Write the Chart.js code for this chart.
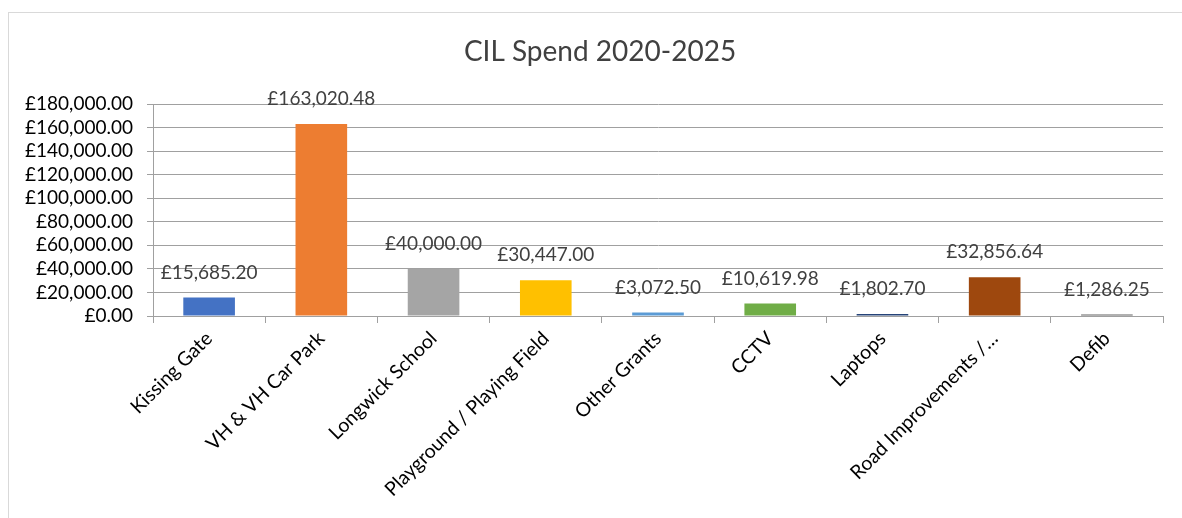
<!DOCTYPE html>
<html>
<head>
<meta charset="utf-8">
<script src="https://cdn.jsdelivr.net/npm/chart.js@4/dist/chart.umd.min.js"></script>
<style>
  html, body { margin: 0; padding: 0; background: #fff; overflow: hidden; }
  .frame {
    position: absolute; left: 8px; top: 12px; width: 1200px; height: 520px;
    border: 1px solid #d9d9d9; box-sizing: border-box;
  }
  .wrap { position: absolute; left: 0; top: 0; width: 1182px; height: 518px; }
</style>
</head>
<body>
<div class="frame"></div>
<div class="wrap"><canvas id="cilChart"></canvas></div>
<script>
// Données du graphique
const categories = ['Kissing Gate', 'VH & VH Car Park', 'Longwick School', 'Playground / Playing Field',
  'Other Grants', 'CCTV', 'Laptops', 'Road Improvements /…', 'Defib'];
const spend = [15685.20, 163020.48, 40000.00, 30447.00, 3072.50, 10619.98, 1802.70, 32856.64, 1286.25];
const barColours = ['#4472C4', '#ED7D31', '#A5A5A5', '#FFC000', '#5B9BD5', '#70AD47', '#264478', '#9E480E', '#636363'];
const yTicks = [0, 20000, 40000, 60000, 80000, 100000, 120000, 140000, 160000, 180000];
const chartTitle = 'CIL Spend 2020-2025';

const fmt = v => '£' + v.toLocaleString('en-GB', { minimumFractionDigits: 2, maximumFractionDigits: 2 });

// Titre + étiquettes de valeur au-dessus des barres
const valueLabels = {
  id: 'valueLabels',
  afterDatasetsDraw(chart) {
    const ctx = chart.ctx;
    const meta = chart.getDatasetMeta(0);
    ctx.save();
    ctx.textAlign = 'center';
    ctx.textBaseline = 'middle';
    ctx.fillStyle = '#404040';
    ctx.font = '28px Lato';
    ctx.fillText(chartTitle, 600, 52);
    ctx.font = '19px Lato';
    meta.data.forEach((bar, i) => {
      ctx.fillText(fmt(spend[i]), bar.x, bar.y - 25);
    });
    ctx.restore();
  }
};

new Chart(document.getElementById('cilChart'), {
  type: 'bar',
  data: {
    labels: categories,
    datasets: [{
      data: spend,
      backgroundColor: barColours,
      barPercentage: 0.46,
      categoryPercentage: 1
    }]
  },
  options: {
    responsive: true,
    maintainAspectRatio: false,
    animation: false,
    layout: { padding: { left: 10, right: 19, top: 104, bottom: 0 } },
    plugins: {
      legend: { display: false },
      tooltip: { enabled: false }
    },
    scales: {
      x: {
        grid: { drawOnChartArea: false, drawTicks: true, tickLength: 7, offset: true, color: '#a0a0a0' },
        border: { color: '#a0a0a0' },
        ticks: {
          color: '#000',
          font: { family: 'Lato', size: 19.5 },
          maxRotation: 45, minRotation: 45,
          autoSkip: false,
          padding: 4
        },
        afterFit(scale) { scale.height = 202; }
      },
      y: {
        min: 0, max: 180000,
        afterBuildTicks(scale) { scale.ticks = yTicks.map(v => ({ value: v })); },
        grid: { color: '#a0a0a0', tickLength: 6 },
        border: { color: '#a0a0a0' },
        ticks: {
          color: '#000',
          font: { family: 'Lato', size: 19 },
          padding: 14,
          autoSkip: false,
          callback: v => fmt(v)
        },
        afterFit(scale) { scale.width = 143; }
      }
    }
  },
  plugins: [valueLabels]
});
</script>
</body>
</html>
